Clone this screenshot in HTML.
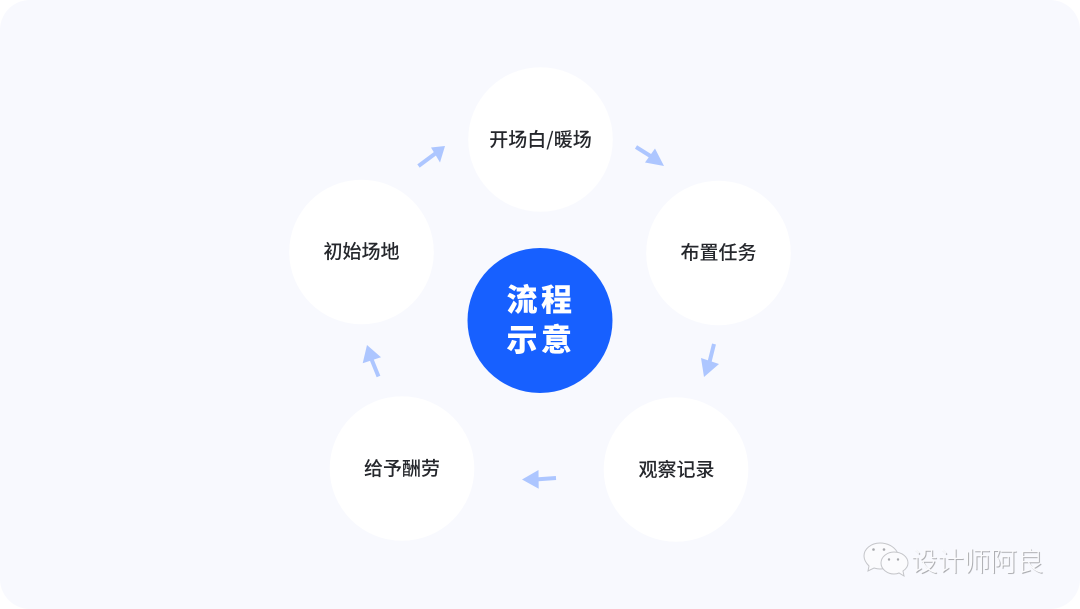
<!DOCTYPE html>
<html lang="zh">
<head>
<meta charset="utf-8">
<style>
html,body{margin:0;padding:0;background:#fff;width:1080px;height:609px;overflow:hidden}
svg{display:block}
text{font-family:"Liberation Sans","Noto Sans CJK SC",sans-serif}
.l{font-size:19px;font-weight:500;fill:#25272c;text-anchor:middle;font-family:"Noto Sans CJK SC","Liberation Sans",sans-serif}
.c{font-size:31px;font-weight:900;fill:#fff;letter-spacing:3.5px;font-family:"Noto Sans CJK SC","Liberation Sans",sans-serif}
.a{fill:#adc6ff}
.s{stroke:#adc6ff;stroke-width:4;fill:none}
</style>
</head>
<body>
<svg width="1080" height="609" viewBox="0 0 1080 609" xmlns="http://www.w3.org/2000/svg">
<rect x="0" y="0" width="1080" height="609" fill="#fff"/>
<rect x="0" y="0" width="1080" height="609" rx="30" fill="#f8f9fe"/>

<circle cx="540.500" cy="139.500" r="72.300" fill="#fff"/>
<circle cx="718.500" cy="253" r="72.300" fill="#fff"/>
<circle cx="676" cy="469.500" r="72.300" fill="#fff"/>
<circle cx="402" cy="468.500" r="72.300" fill="#fff"/>
<circle cx="361.500" cy="252" r="72.300" fill="#fff"/>
<circle cx="540" cy="320.500" r="72.500" fill="#1760ff"/>

<text class="l" x="540.500" y="146">开场白/暖场</text>
<text class="l" x="718.500" y="259">布置任务</text>
<text class="l" x="676.500" y="476">观察记录</text>
<text class="l" x="402" y="475">给予酬劳</text>
<text class="l" x="361.500" y="258">初始场地</text>
<text class="c" x="506.500" y="311">流程</text>
<text class="c" x="506.500" y="351">示意</text>

<!-- arrows -->
<line class="s" x1="418.500" y1="166" x2="436" y2="153"/>
<polygon class="a" points="445,146 431,147.500 440,162.500"/>
<line class="s" x1="636" y1="147" x2="652" y2="157"/>
<polygon class="a" points="664,166 655,148.500 645,162.500"/>
<line class="s" x1="714" y1="344" x2="709.500" y2="362"/>
<polygon class="a" points="704,377 701,358 719,364"/>
<line class="s" x1="556" y1="478" x2="535" y2="479.500"/>
<polygon class="a" points="522,479.500 538.500,470 538.700,488.700"/>
<line class="s" x1="378.500" y1="376.500" x2="371" y2="358"/>
<polygon class="a" points="367,345 362.700,363.300 381,357.300"/>

<!-- watermark -->
<g fill="#fbfbfd" stroke="#c4c5c9" stroke-width="1">
<path d="M880 543c-9 0-16 6-16 13 0 4 2 7 5 10l-1 5 6-3c2 .6 4 1 6 1 3 0 6-.8 8-2-1-6 3-11 10-13-2-6-9-11-18-11z"/>
<path d="M894 552c-7 0-13 5-13 11s6 11 13 11c2 0 3 0 5-1l5 3-1-5c3-2 5-5 5-8 0-6-6-11-14-11z"/>
</g>
<g fill="#a8a9ad">
<circle cx="873.500" cy="549.500" r="1.300"/><circle cx="884" cy="549.500" r="1.300"/>
<circle cx="889" cy="559.500" r="1.200"/><circle cx="898" cy="559.500" r="1.200"/>
</g>
<text x="911" y="571" style="font-size:26.500px;font-weight:300;fill:#fbfbfd;font-family:'Noto Sans CJK SC','Liberation Sans',sans-serif;text-shadow:1px 1px 0.500px #a9aaae">设计师阿良</text>
</svg>
</body>
</html>
